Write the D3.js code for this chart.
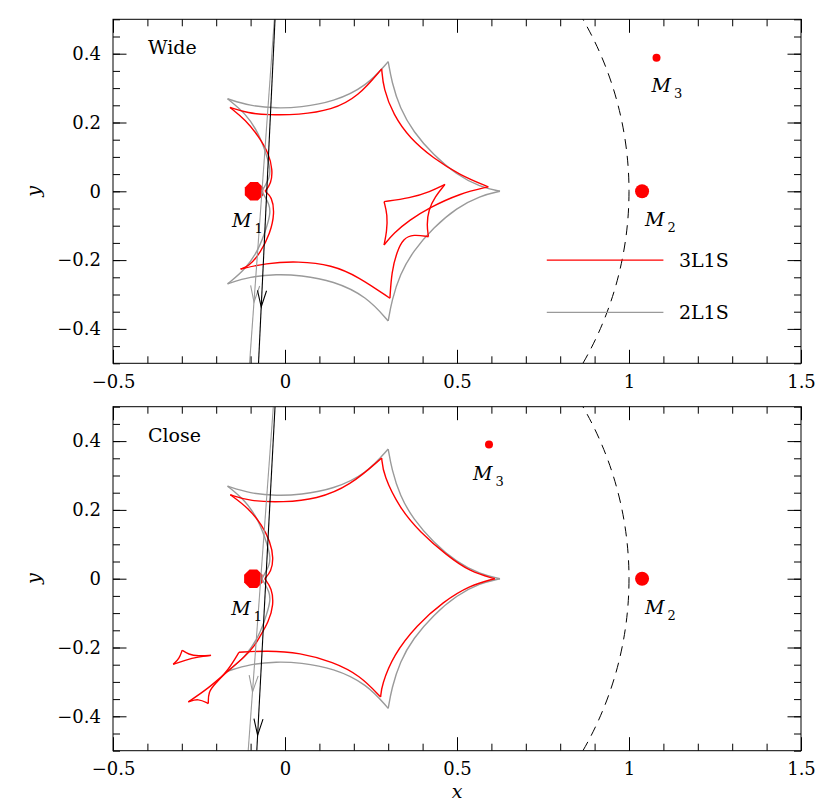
<!DOCTYPE html>
<html>
<head>
<meta charset="utf-8">
<script src="https://cdn.jsdelivr.net/npm/d3@7"></script>
<style>
body { margin: 0; background: #fff; }
text { font-family: "DejaVu Serif", serif; fill: #000; }
</style>
</head>
<body>
<svg id="chart" width="830" height="803"></svg>
<script>
// 2L1S caustic, same in both panels; one array per fold between two cusps
const grayCaustic = [
  [[-0.167, 0.269], [-0.102, 0.248], [-0.024, 0.241], [0.044, 0.244], [0.141, 0.260], [0.238, 0.306], [0.300, 0.377]],
  [[0.300, 0.377], [0.310, 0.319], [0.334, 0.241], [0.373, 0.173], [0.431, 0.106], [0.499, 0.048], [0.567, 0.013], [0.625, 0.0]],
  [[0.625, 0.0], [0.567, -0.013], [0.499, -0.048], [0.431, -0.106], [0.373, -0.173], [0.334, -0.241], [0.310, -0.319], [0.300, -0.377]],
  [[0.300, -0.377], [0.238, -0.306], [0.141, -0.260], [0.044, -0.244], [-0.024, -0.241], [-0.102, -0.248], [-0.167, -0.269]],
  [[-0.167, -0.269], [-0.115, -0.227], [-0.076, -0.169], [-0.052, -0.101], [-0.042, -0.062], [-0.046, -0.038], [-0.057, -0.018], [-0.067, 0.0]],
  [[-0.067, 0.0], [-0.057, 0.018], [-0.046, 0.038], [-0.042, 0.062], [-0.052, 0.101], [-0.076, 0.169], [-0.115, 0.227], [-0.167, 0.269]]
];

// 3L1S caustic, wide case
const wideCaustic = [
  [[-0.160, 0.244], [-0.107, 0.227], [-0.049, 0.222], [0.039, 0.222], [0.136, 0.236], [0.213, 0.275], [0.281, 0.356]],
  [[0.281, 0.356], [0.286, 0.299], [0.315, 0.222], [0.363, 0.154], [0.431, 0.096], [0.509, 0.047], [0.591, 0.013]],
  [[0.591, 0.013], [0.509, -0.006], [0.417, -0.049], [0.363, -0.083], [0.315, -0.122], [0.288, -0.156]],
  [[0.288, -0.156], [0.296, -0.117], [0.298, -0.069], [0.288, -0.030]],
  [[0.288, -0.030], [0.363, -0.020], [0.422, -0.001], [0.465, 0.020]],
  [[0.465, 0.020], [0.436, -0.016], [0.417, -0.054], [0.412, -0.098], [0.417, -0.132]],
  [[0.417, -0.132], [0.373, -0.125], [0.344, -0.137], [0.325, -0.176], [0.310, -0.234], [0.305, -0.311]],
  [[0.305, -0.311], [0.213, -0.248], [0.136, -0.214], [0.039, -0.203], [-0.058, -0.209], [-0.129, -0.226]],
  [[-0.129, -0.226], [-0.106, -0.219], [-0.072, -0.180], [-0.043, -0.122], [-0.030, -0.064], [-0.038, -0.016], [-0.058, 0.0]],
  [[-0.058, 0.0], [-0.040, 0.023], [-0.036, 0.062], [-0.047, 0.110], [-0.076, 0.159], [-0.115, 0.208], [-0.160, 0.244]]
];

// 3L1S caustic, close case
const closeCaustic = [
  [[-0.159, 0.244], [-0.102, 0.225], [-0.005, 0.222], [0.092, 0.231], [0.189, 0.270], [0.281, 0.351]],
  [[0.281, 0.351], [0.286, 0.301], [0.334, 0.204], [0.392, 0.136], [0.470, 0.068], [0.538, 0.020], [0.610, 0.0]],
  [[0.610, 0.0], [0.538, -0.019], [0.460, -0.067], [0.383, -0.135], [0.315, -0.222], [0.281, -0.310], [0.278, -0.344]],
  [[0.278, -0.344], [0.218, -0.281], [0.140, -0.242], [0.044, -0.215], [-0.053, -0.209], [-0.134, -0.214]],
  [[-0.134, -0.214], [-0.165, -0.266], [-0.203, -0.305], [-0.223, -0.329], [-0.223, -0.363]],
  [[-0.223, -0.363], [-0.252, -0.348], [-0.281, -0.358]],
  [[-0.281, -0.358], [-0.223, -0.319], [-0.169, -0.271], [-0.116, -0.227], [-0.087, -0.193], [-0.076, -0.173], [-0.047, -0.124], [-0.033, -0.076], [-0.038, -0.028], [-0.059, 0.0]],
  [[-0.059, 0.0], [-0.040, 0.021], [-0.033, 0.060], [-0.043, 0.108], [-0.067, 0.156], [-0.106, 0.205], [-0.159, 0.244]],
  [[-0.299, -0.208], [-0.281, -0.220], [-0.252, -0.225], [-0.215, -0.223]],
  [[-0.325, -0.249], [-0.291, -0.237], [-0.252, -0.227], [-0.215, -0.223]],
  [[-0.299, -0.208], [-0.307, -0.232], [-0.325, -0.249]]
];

// lens positions
const lensNames = ["1", "2", "3"];
const wideLensX = [-0.090, 1.038, 1.080];
const wideLensY = [0.0, 0.0, 0.388];
const closeLensX = [-0.092, 1.038, 0.593];
const closeLensY = [0.0, 0.0, 0.390];

// source trajectories (start, end) and arrow tip y
const wideTrack2L = [[-0.031, 0.5], [-0.103, -0.5]];
const wideTrack3L = [[-0.029, 0.5], [-0.077, -0.5]];
const closeTrack2L = [[-0.034, 0.5], [-0.107, -0.5]];
const closeTrack3L = [[-0.029, 0.5], [-0.082, -0.5]];
const wideArrowY = [-0.322, -0.336];
const closeArrowY = [-0.329, -0.455];

const legendLabels = ["3L1S", "2L1S"];

const svg = d3.select("#chart");
const x = d3.scaleLinear().domain([-0.5, 1.5]).range([113, 801]);
const panelH = 344;

const red = "#ff0000", gray = "#9a9a9a";

const panels = [
  {title: "Wide", top: 19.3, caustic: wideCaustic, lx: wideLensX, ly: wideLensY,
   tracks: [wideTrack2L, wideTrack3L], arrows: wideArrowY,
   labelOff: [[-22, 36], [3, 35], [-5, 34]], legend: true, xlabel: false},
  {title: "Close", top: 406.7, caustic: closeCaustic, lx: closeLensX, ly: closeLensY,
   tracks: [closeTrack2L, closeTrack3L], arrows: closeArrowY,
   labelOff: [[-22, 36], [3, 35], [-16, 35]], legend: false, xlabel: true}
];

const lensSize = {"1": 10, "2": 7, "3": 4};

panels.forEach((p, i) => {
  const y = d3.scaleLinear().domain([-0.5, 0.5]).range([p.top + panelH, p.top]);
  const g = svg.append("g");
  const clipId = "clip" + i;
  svg.append("clipPath").attr("id", clipId)
    .append("rect")
    .attr("x", x.range()[0]).attr("y", p.top)
    .attr("width", x.range()[1] - x.range()[0]).attr("height", panelH);

  const plot = g.append("g").attr("clip-path", `url(#${clipId})`);

  // Einstein ring
  plot.append("circle")
    .attr("cx", x(0)).attr("cy", y(0))
    .attr("r", x(1) - x(0))
    .attr("fill", "none")
    .attr("stroke", "#000")
    .attr("stroke-width", 1)
    .attr("stroke-dasharray", "10,7");

  // lenses
  lensNames.forEach((n, k) => {
    const cx = x(p.lx[k]), cy = y(p.ly[k]);
    const r = lensSize[n];
    if (n === "1") {
      const pts = d3.range(8).map(j => {
        const a = Math.PI / 8 + j * Math.PI / 4;
        return [cx + r * Math.cos(a), cy + r * Math.sin(a)];
      });
      plot.append("path")
        .attr("d", "M" + pts.join("L") + "Z")
        .attr("fill", red);
    } else {
      plot.append("circle").attr("cx", cx).attr("cy", cy).attr("r", r).attr("fill", red);
    }
    const lab = g.append("text")
      .attr("x", cx + p.labelOff[k][0])
      .attr("y", cy + p.labelOff[k][1])
      .style("font-size", "19px");
    lab.append("tspan").style("font-style", "italic").text("M");
    lab.append("tspan").attr("dx", 3).attr("dy", 6).style("font-size", "13px").text(n);
  });

  const line = d3.line()
    .x(d => x(d[0])).y(d => y(d[1]))
    .curve(d3.curveBasis);

  plot.selectAll(".gc").data(grayCaustic).enter().append("path")
    .attr("class", "gc")
    .attr("d", line)
    .attr("fill", "none").attr("stroke", gray).attr("stroke-width", 1.4);

  plot.selectAll(".rc").data(p.caustic).enter().append("path")
    .attr("class", "rc")
    .attr("d", line)
    .attr("fill", "none").attr("stroke", red).attr("stroke-width", 1.4);

  // trajectories with open arrow heads
  p.tracks.forEach((t, k) => {
    const col = k === 0 ? gray : "#000";
    const x1 = x(t[0][0]), y1 = y(t[0][1]), x2 = x(t[1][0]), y2 = y(t[1][1]);
    plot.append("line")
      .attr("x1", x1).attr("y1", y1).attr("x2", x2).attr("y2", y2)
      .attr("stroke", col).attr("stroke-width", 1.1);
    const ty = y(p.arrows[k]);
    const tx = x1 + (x2 - x1) * (ty - y1) / (y2 - y1);
    const ang = Math.atan2(y2 - y1, x2 - x1);
    const L = 17, h = 0.27;
    const a1 = [tx - L * Math.cos(ang - h), ty - L * Math.sin(ang - h)];
    const a2 = [tx - L * Math.cos(ang + h), ty - L * Math.sin(ang + h)];
    plot.append("path")
      .attr("d", `M${a1}L${tx},${ty}L${a2}`)
      .attr("fill", "none").attr("stroke", col).attr("stroke-width", 1.1);
  });

  // axes: ticks inside on all four sides
  const xMinor = x.ticks(20), xMajor = x.ticks(4);
  const yMinor = y.ticks(20), yMajor = y.ticks(5);
  const fmt = d => d3.format("~g")(d);
  const bottom = p.top + panelH;
  const axes = [
    g.append("g").attr("transform", `translate(0,${bottom})`).call(d3.axisBottom(x).tickValues(xMinor).tickSize(-7).tickFormat("")),
    g.append("g").attr("transform", `translate(0,${bottom})`).call(d3.axisBottom(x).tickValues(xMajor).tickSize(-13.5).tickPadding(12).tickFormat(fmt)),
    g.append("g").attr("transform", `translate(0,${p.top})`).call(d3.axisTop(x).tickValues(xMinor).tickSize(-7).tickFormat("")),
    g.append("g").attr("transform", `translate(0,${p.top})`).call(d3.axisTop(x).tickValues(xMajor).tickSize(-13.5).tickFormat("")),
    g.append("g").attr("transform", `translate(${x.range()[0]},0)`).call(d3.axisLeft(y).tickValues(yMinor).tickSize(-7).tickFormat("")),
    g.append("g").attr("transform", `translate(${x.range()[0]},0)`).call(d3.axisLeft(y).tickValues(yMajor).tickSize(-13.5).tickPadding(12).tickFormat(fmt)),
    g.append("g").attr("transform", `translate(${x.range()[1]},0)`).call(d3.axisRight(y).tickValues(yMinor).tickSize(-7).tickFormat("")),
    g.append("g").attr("transform", `translate(${x.range()[1]},0)`).call(d3.axisRight(y).tickValues(yMajor).tickSize(-13.5).tickFormat(""))
  ];
  axes.forEach(a => {
    a.select(".domain").remove();
    a.selectAll("line").attr("stroke", "#000").attr("stroke-width", 1);
    a.selectAll("text").style("font-family", '"DejaVu Serif", serif').style("font-size", "18px");
  });

  g.append("rect")
    .attr("x", x.range()[0]).attr("y", p.top)
    .attr("width", x.range()[1] - x.range()[0]).attr("height", panelH)
    .attr("fill", "none").attr("stroke", "#000").attr("stroke-width", 1);

  g.append("text")
    .attr("x", 148).attr("y", p.top + 35)
    .style("font-size", "19px")
    .text(p.title);

  g.append("text")
    .attr("transform", `translate(40,${y(0)}) rotate(-90)`)
    .attr("text-anchor", "middle")
    .style("font-size", "19px").style("font-style", "italic")
    .text("y");

  if (p.xlabel) {
    g.append("text")
      .attr("x", (x.range()[0] + x.range()[1]) / 2).attr("y", 798)
      .attr("text-anchor", "middle")
      .style("font-size", "19px").style("font-style", "italic")
      .text("x");
  }

  if (p.legend) {
    const ly = [y(-0.2), y(-0.352)];
    legendLabels.forEach((lab, k) => {
      g.append("line")
        .attr("x1", x(0.761)).attr("x2", x(1.10))
        .attr("y1", ly[k]).attr("y2", ly[k])
        .attr("stroke", k === 0 ? red : gray).attr("stroke-width", 1.3);
      g.append("text")
        .attr("x", x(1.145)).attr("y", ly[k] + 6.5)
        .style("font-size", "19px")
        .text(lab);
    });
  }
});
</script>
</body>
</html>
